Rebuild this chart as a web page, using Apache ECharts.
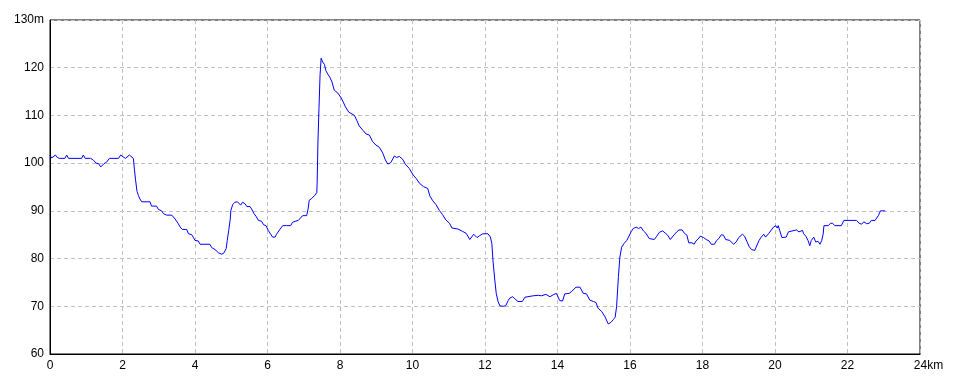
<!DOCTYPE html>
<html>
<head>
<meta charset="utf-8">
<script src="https://cdn.jsdelivr.net/npm/echarts@6/dist/echarts.min.js"></script>
<style>html,body{margin:0;padding:0;background:#fff;}#c{width:960px;height:384px;}</style>
</head>
<body>
<div id="c"></div>
<script>
const distanceKm = [0.00,0.05,0.09,0.15,0.20,0.26,0.41,0.46,0.51,0.87,0.92,0.97,1.12,1.20,1.27,1.34,1.40,1.43,1.49,1.56,1.64,1.89,1.95,2.02,2.08,2.13,2.19,2.24,2.30,2.33,2.36,2.40,2.44,2.48,2.53,2.76,2.80,2.94,2.99,3.08,3.13,3.22,3.36,3.45,3.54,3.59,3.65,3.77,3.82,3.91,3.95,4.00,4.09,4.14,4.41,4.46,4.55,4.60,4.65,4.74,4.80,4.86,4.89,4.93,4.97,4.99,5.04,5.10,5.17,5.22,5.26,5.31,5.38,5.43,5.52,5.56,5.63,5.68,5.75,5.84,5.89,5.96,6.02,6.09,6.14,6.21,6.25,6.33,6.36,6.42,6.53,6.58,6.64,6.69,6.76,6.85,6.91,6.97,7.08,7.12,7.15,7.22,7.31,7.36,7.37,7.39,7.42,7.45,7.48,7.52,7.57,7.61,7.66,7.72,7.78,7.84,7.94,8.03,8.09,8.15,8.24,8.40,8.46,8.53,8.63,8.72,8.81,8.90,8.99,9.09,9.18,9.25,9.32,9.40,9.50,9.56,9.64,9.73,9.80,9.91,10.02,10.10,10.19,10.30,10.42,10.48,10.56,10.65,10.74,10.83,10.92,11.02,11.09,11.25,11.38,11.48,11.58,11.69,11.78,11.85,11.94,12.08,12.15,12.19,12.22,12.27,12.31,12.36,12.41,12.50,12.57,12.64,12.68,12.76,12.82,12.91,13.03,13.10,13.14,13.33,13.47,13.56,13.68,13.79,13.88,13.97,14.02,14.06,14.14,14.20,14.32,14.39,14.51,14.62,14.71,14.80,14.89,14.99,15.06,15.12,15.22,15.31,15.40,15.47,15.54,15.59,15.63,15.68,15.72,15.77,15.83,15.91,15.96,16.03,16.09,16.17,16.24,16.30,16.37,16.44,16.53,16.58,16.67,16.74,16.81,16.90,16.98,17.04,17.11,17.16,17.23,17.29,17.35,17.44,17.50,17.57,17.62,17.71,17.77,17.82,17.88,17.94,17.97,18.03,18.10,18.18,18.24,18.33,18.38,18.45,18.52,18.58,18.64,18.75,18.79,18.86,18.93,19.00,19.10,19.16,19.23,19.28,19.35,19.44,19.48,19.56,19.62,19.69,19.74,19.82,19.90,19.96,20.02,20.06,20.09,20.13,20.19,20.24,20.31,20.37,20.42,20.59,20.66,20.76,20.79,20.85,20.91,20.96,21.00,21.07,21.12,21.19,21.24,21.29,21.33,21.35,21.47,21.53,21.59,21.65,21.83,21.90,22.25,22.32,22.39,22.45,22.53,22.60,22.66,22.76,22.80,22.85,22.91,23.04];
const elevationM = [101.6,101.1,101.3,101.7,101.2,101.0,101.0,101.7,101.0,101.0,101.7,101.0,101.0,100.6,100.0,99.9,99.2,99.3,99.9,100.2,101.0,101.0,101.7,101.3,101.0,101.3,101.7,101.4,101.0,98.6,96.5,94.1,93.2,92.5,91.9,91.9,91.0,91.0,90.3,90.0,89.4,89.1,89.1,88.3,87.3,86.6,86.1,86.1,85.2,85.0,84.5,83.8,83.7,83.0,83.0,82.3,81.9,81.9,81.2,80.9,81.2,82.1,83.8,85.9,88.1,90.1,91.3,91.8,91.9,91.6,91.2,91.8,91.5,90.9,90.9,90.4,89.4,88.9,88.0,87.8,87.1,86.9,85.9,85.1,84.5,84.5,85.1,86.0,86.2,86.9,86.9,87.3,86.9,87.6,87.8,88.0,88.5,89.0,89.0,90.4,92.2,92.6,93.3,93.8,96.0,104.0,111.5,118.5,122.0,121.2,120.7,119.4,118.7,118.0,117.0,115.3,114.7,113.7,112.8,111.8,110.7,110.0,109.0,107.8,106.9,106.1,105.9,104.5,103.8,103.3,102.1,100.7,99.8,100.1,101.5,101.2,101.4,100.8,99.8,98.9,97.5,96.8,95.8,95.1,94.7,93.1,92.1,91.3,90.1,89.2,88.1,87.4,86.4,86.2,85.7,85.3,84.0,85.1,84.4,84.8,85.2,85.2,84.5,83.1,79.6,75.5,72.7,71.0,70.1,70.0,70.1,71.2,71.7,72.0,71.6,71.0,71.0,71.9,72.0,72.2,72.3,72.2,72.5,72.0,72.4,72.7,72.4,71.2,71.1,72.6,72.7,73.1,74.0,74.0,72.7,72.6,71.3,71.0,70.8,69.6,68.9,67.8,66.3,66.6,67.2,67.7,69.9,76.2,80.3,82.4,83.1,83.8,84.5,85.6,86.3,86.6,86.3,86.6,85.8,85.3,84.2,84.0,84.0,84.7,85.5,85.8,85.3,84.9,84.0,84.0,85.1,85.6,86.0,86.0,85.3,84.9,83.3,83.3,83.0,83.7,84.1,84.7,85.1,84.4,84.0,83.7,83.0,83.0,83.7,84.2,85.0,84.9,84.0,83.8,83.4,83.0,83.5,84.4,85.1,84.7,83.5,82.6,81.9,81.7,82.4,83.8,84.5,85.1,84.5,85.2,86.0,86.6,86.9,86.4,86.9,85.9,84.4,84.0,84.5,85.6,86.0,86.0,85.6,85.9,85.2,84.7,83.8,82.7,83.8,84.5,83.5,83.6,83.0,83.8,85.2,86.9,86.9,87.4,87.4,86.9,86.9,88.0,88.0,87.4,87.2,87.7,87.3,87.4,88.0,88.0,88.3,89.0,90.0,90.0];
const xTicks = [0,2,4,6,8,10,12,14,16,18,20,22,24];
const yTicks = [60,70,80,90,100,110,120,130];

const chart = echarts.init(document.getElementById('c'), null, {renderer: 'canvas'});
const points = distanceKm.map((d, i) => [d, elevationM[i]]);
const font = 'Liberation Sans, Arial, sans-serif';
chart.setOption({
  animation: false,
  backgroundColor: '#ffffff',
  grid: {left: 50, right: 40, top: 20, bottom: 30, show: true, borderColor: '#000', borderWidth: 1, backgroundColor: 'transparent'},
  xAxis: {
    type: 'value', min: xTicks[0], max: xTicks[xTicks.length - 1], interval: 2,
    axisLine: {show: true, onZero: false, lineStyle: {color: '#000', width: 1}},
    axisTick: {show: false},
    axisLabel: {
      color: '#000', fontSize: 12, fontFamily: font, margin: 6,
      formatter: v => v === 24 ? '{u|24km}' : String(v),
      rich: {u: {color: '#000', fontSize: 12, fontFamily: font, padding: [0, 0, 0, 17]}}
    },
    splitLine: {show: true, lineStyle: {color: '#c0c0c0', type: [4, 3], width: 1}}
  },
  yAxis: {
    type: 'value', min: yTicks[0], max: yTicks[yTicks.length - 1], interval: 10,
    axisLine: {show: true, lineStyle: {color: '#000', width: 1}},
    axisTick: {show: false},
    axisLabel: {
      color: '#000', fontSize: 12, fontFamily: font, margin: 6,
      formatter: v => v === 130 ? '130m' : String(v)
    },
    splitLine: {show: true, lineStyle: {color: '#c0c0c0', type: [4, 3], width: 1}}
  },
  series: [{
    type: 'line', data: points, showSymbol: false, symbol: 'none',
    lineStyle: {color: '#0000ff', width: 1}, itemStyle: {color: '#0000ff'}
  }]
});
</script>
</body>
</html>
